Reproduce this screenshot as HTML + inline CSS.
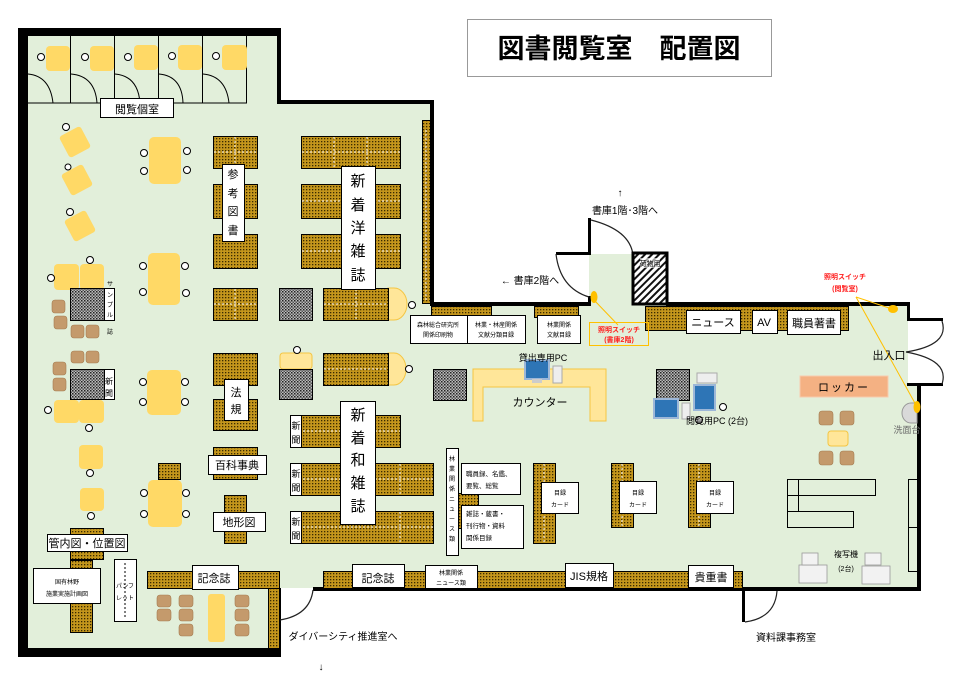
<!DOCTYPE html>
<html><head><meta charset="utf-8"><style>
html,body{margin:0;padding:0;background:#fff;}
svg{display:block;font-family:"Liberation Sans","Noto Sans CJK JP",sans-serif;}
</style></head><body>
<svg width="961" height="677" viewBox="0 0 961 677" xmlns="http://www.w3.org/2000/svg">
<defs>
<pattern id="sh" width="3" height="3" patternUnits="userSpaceOnUse"><rect width="3" height="3" fill="#c4961c"/><rect width="1.3" height="1.3" fill="#3a2a00"/></pattern>
<pattern id="gr" width="3" height="3" patternUnits="userSpaceOnUse"><rect width="3" height="3" fill="#bbb"/><rect width="1.5" height="1.5" fill="#222"/><rect x="1.5" y="1.5" width="1.5" height="1.5" fill="#555"/></pattern>
<pattern id="hx" width="5" height="5" patternUnits="userSpaceOnUse" patternTransform="rotate(45)"><rect width="5" height="5" fill="#fff"/><rect width="2" height="5" fill="#111"/></pattern>
</defs>

<!-- title -->
<rect x="467.5" y="19.5" width="304" height="57" fill="#fff" stroke="#999"/>
<text x="619" y="58" font-size="27" font-weight="bold" text-anchor="middle">図書閲覧室　配置図</text>

<!-- floor -->
<polygon fill="#e2efda" points="28,36 278,36 278,104 431,104 431,304 589,304 589,254 633,254 633,304 908,304 908,386 918,386 918,588 280,588 280,648 28,648"/>

<!-- walls -->
<g fill="#000">
<rect x="18" y="28" width="10" height="629"/>
<rect x="18" y="28" width="262" height="8"/>
<rect x="277" y="28" width="4" height="76"/>
<rect x="277" y="100" width="156" height="4"/>
<rect x="430" y="100" width="4" height="206"/>
<rect x="430" y="302" width="161" height="4"/>
<rect x="588" y="218" width="3" height="36"/>
<rect x="556" y="252" width="35" height="3"/>
<rect x="588" y="296" width="3" height="10"/>
<rect x="666" y="302" width="244" height="4"/>
<rect x="907" y="302" width="3" height="19"/>
<rect x="907" y="318" width="36" height="3"/>
<rect x="907" y="383" width="36" height="3"/>
<rect x="917" y="383" width="4" height="208"/>
<rect x="742" y="587" width="179" height="4"/>
<rect x="742" y="587" width="3" height="35"/>
<rect x="313" y="587" width="430" height="4"/>
<rect x="18" y="648" width="263" height="9"/>
<rect x="277" y="588" width="4" height="69"/>
</g>
<!-- doors -->
<g fill="none" stroke="#222" stroke-width="1.2">
<path d="M591,220 Q630,230 633,255"/>
<path d="M556,254 Q560,288 589,297"/>
<path d="M942,321 Q950,345 906,352 Q950,360 942,384"/>
<path d="M745,622 Q775,618 777,591"/>
<path d="M280,620 Q310,615 313,590"/>
</g>
<!-- elevator -->
<rect x="633" y="253" width="34" height="51" fill="url(#hx)" stroke="#000" stroke-width="3"/>
<rect x="640" y="258" width="20" height="10" fill="#fff" opacity="0.6"/>
<text x="650" y="266" font-size="7" text-anchor="middle">荷物用</text>

<!-- private rooms -->
<g stroke="#000" stroke-width="1" fill="none">
<line x1="28" y1="103" x2="247" y2="103"/>
<line x1="70.5" y1="36" x2="70.5" y2="103"/><line x1="114.5" y1="36" x2="114.5" y2="103"/>
<line x1="158.5" y1="36" x2="158.5" y2="103"/><line x1="202.5" y1="36" x2="202.5" y2="103"/>
<line x1="246.5" y1="36" x2="246.5" y2="103"/>
<path d="M28,74 Q50,76 53,103"/><path d="M71,74 Q95,76 97,103"/><path d="M115,74 Q138,76 140,103"/><path d="M159,74 Q182,76 183,103"/><path d="M203,74 Q226,76 229,103"/>
</g>
<g fill="#ffd966">
<rect x="46" y="46" width="24" height="25" rx="4"/><rect x="90" y="46" width="24" height="25" rx="4"/><rect x="134" y="45" width="24" height="25" rx="4"/><rect x="178" y="45" width="24" height="25" rx="4"/><rect x="222" y="45" width="25" height="25" rx="4"/>
</g>
<g fill="#fff" stroke="#000" stroke-width="1">
<circle cx="41" cy="57" r="3.5"/><circle cx="85" cy="57" r="3.5"/><circle cx="128" cy="57" r="3.5"/><circle cx="172" cy="56" r="3.5"/><circle cx="216" cy="56" r="3.5"/>
</g>
<rect x="100.5" y="98.5" width="73" height="19" fill="#fff" stroke="#000"/>
<text x="137" y="113" font-size="11" text-anchor="middle">閲覧個室</text>

<!-- lounge angled tables -->
<g fill="#ffd966">
<rect x="63" y="130" width="24" height="24" rx="3" transform="rotate(-28 75 142)"/>
<rect x="65" y="168" width="24" height="24" rx="3" transform="rotate(-28 77 180)"/>
<rect x="68" y="214" width="24" height="24" rx="3" transform="rotate(-28 80 226)"/>
</g>
<!-- tables -->
<g fill="#ffd966">
<rect x="149" y="137" width="32" height="47" rx="5"/>
<rect x="148" y="253" width="32" height="52" rx="5"/>
<rect x="147" y="370" width="34" height="45" rx="5"/>
<rect x="148" y="480" width="34" height="47" rx="5"/>
<rect x="54" y="264" width="25" height="26" rx="4"/><rect x="80" y="264" width="24" height="26" rx="4"/>
<rect x="54" y="400" width="25" height="23" rx="4"/><rect x="79" y="400" width="25" height="23" rx="4"/>
<rect x="79" y="445" width="24" height="24" rx="4"/><rect x="80" y="488" width="24" height="23" rx="4"/>
<rect x="208" y="594" width="17" height="48" rx="3"/>
<rect x="280" y="353" width="32" height="16" rx="3" fill="#ffe699" stroke="#f4c542"/>
<path d="M388,288 h6 a13,16 0 0 1 0,32 h-6z" fill="#ffe699" stroke="#f4c542"/>
<path d="M388,353 h6 a12,16 0 0 1 0,32 h-6z" fill="#ffe699" stroke="#f4c542"/>
<rect x="828" y="431" width="20" height="15" rx="3" fill="#ffe699" stroke="#f4c542"/>
</g>
<g fill="#fff" stroke="#000" stroke-width="1">
<circle cx="66" cy="127" r="3.5"/><circle cx="68" cy="167" r="3"/><circle cx="70" cy="212" r="3.5"/>
<circle cx="144" cy="153" r="3.5"/><circle cx="144" cy="171" r="3.5"/><circle cx="187" cy="151" r="3.5"/><circle cx="187" cy="170" r="3.5"/>
<circle cx="143" cy="266" r="3.5"/><circle cx="143" cy="292" r="3.5"/><circle cx="185" cy="266" r="3.5"/><circle cx="186" cy="293" r="3.5"/>
<circle cx="143" cy="382" r="3.5"/><circle cx="143" cy="402" r="3.5"/><circle cx="185" cy="382" r="3.5"/><circle cx="185" cy="402" r="3.5"/>
<circle cx="144" cy="493" r="3.5"/><circle cx="144" cy="514" r="3.5"/><circle cx="186" cy="493" r="3.5"/><circle cx="186" cy="514" r="3.5"/>
<circle cx="51" cy="278" r="3.5"/><circle cx="90" cy="260" r="3.5"/>
<circle cx="48" cy="410" r="3.5"/><circle cx="89" cy="428" r="3.5"/>
<circle cx="90" cy="473" r="3.5"/><circle cx="91" cy="516" r="3.5"/>
<circle cx="297" cy="350" r="3.5"/><circle cx="412" cy="305" r="3.5"/><circle cx="409" cy="369" r="3.5"/>
<circle cx="411" cy="306" r="0"/>
<circle cx="699" cy="420" r="3.5"/><circle cx="723" cy="407" r="3.5"/>
</g>

<!-- armchairs -->
<g fill="#c49a6c" stroke="#a57c50" stroke-width="0.6">
<rect x="52" y="300" width="13" height="13" rx="3"/><rect x="54" y="316" width="13" height="13" rx="3"/><rect x="71" y="325" width="13" height="13" rx="3"/><rect x="86" y="325" width="13" height="13" rx="3"/>
<rect x="71" y="351" width="13" height="12" rx="3"/><rect x="86" y="351" width="13" height="12" rx="3"/><rect x="53" y="362" width="13" height="13" rx="3"/><rect x="53" y="378" width="13" height="13" rx="3"/>
<rect x="157" y="595" width="14" height="12" rx="3"/><rect x="157" y="609" width="14" height="12" rx="3"/>
<rect x="179" y="595" width="14" height="12" rx="3"/><rect x="179" y="609" width="14" height="12" rx="3"/><rect x="179" y="624" width="14" height="12" rx="3"/>
<rect x="235" y="595" width="14" height="12" rx="3"/><rect x="235" y="609" width="14" height="12" rx="3"/><rect x="235" y="624" width="14" height="12" rx="3"/>
<rect x="819" y="411" width="14" height="14" rx="3"/><rect x="840" y="411" width="14" height="14" rx="3"/>
<rect x="819" y="451" width="14" height="14" rx="3"/><rect x="840" y="451" width="14" height="14" rx="3"/>
</g>

<!-- gray tables -->
<g fill="url(#gr)" stroke="#000" stroke-width="1">
<rect x="70.5" y="288.5" width="34" height="32"/>
<rect x="70.5" y="369.5" width="34" height="30"/>
<rect x="279.5" y="288.5" width="33" height="32"/>
<rect x="279.5" y="369.5" width="33" height="30"/>
<rect x="433.5" y="369.5" width="33" height="31"/>
<rect x="656.5" y="369.5" width="33" height="31"/>
</g>

<!-- shelves -->
<g fill="url(#sh)" stroke="#000" stroke-width="1">
<rect x="213.5" y="136.5" width="44" height="32"/><rect x="213.5" y="184.5" width="44" height="34"/><rect x="213.5" y="234.5" width="44" height="34"/><rect x="213.5" y="288.5" width="44" height="32"/>
<rect x="301.5" y="136.5" width="99" height="32"/><rect x="301.5" y="184.5" width="99" height="34"/><rect x="301.5" y="234.5" width="99" height="34"/>
<rect x="323.5" y="288.5" width="65" height="32"/><rect x="323.5" y="353.5" width="65" height="32"/>
<rect x="213.5" y="353.5" width="44" height="32"/><rect x="213.5" y="399.5" width="44" height="31"/>
<rect x="213.5" y="447.5" width="44" height="32"/><rect x="224.5" y="495.5" width="22" height="48"/>
<rect x="290.5" y="415.5" width="110" height="32"/><rect x="290.5" y="463.5" width="143" height="32"/><rect x="290.5" y="511.5" width="143" height="32"/>
<rect x="158.5" y="463.5" width="22" height="16"/>
<rect x="70.5" y="528.5" width="33" height="31"/><rect x="70.5" y="560.5" width="22" height="72"/>
<rect x="147.5" y="571.5" width="132" height="17"/><rect x="268.5" y="588.5" width="11" height="60"/>
<rect x="323.5" y="571.5" width="419" height="17"/>
<rect x="422.5" y="120.5" width="8" height="183"/>
<rect x="431.5" y="306.5" width="60" height="10"/><rect x="534.5" y="306.5" width="44" height="11"/>
<rect x="645.5" y="306.5" width="203" height="24"/>
<rect x="458.5" y="493.5" width="20" height="35"/>
<rect x="533.5" y="463.5" width="22" height="80"/><rect x="611.5" y="463.5" width="22" height="64"/><rect x="688.5" y="463.5" width="22" height="64"/>
</g>
<g stroke="#fff" stroke-width="1" stroke-dasharray="2,2">
<line x1="235" y1="137" x2="235" y2="168"/><line x1="214" y1="152" x2="257" y2="152"/>
<line x1="235" y1="289" x2="235" y2="320"/><line x1="214" y1="304" x2="257" y2="304"/>
<line x1="334" y1="137" x2="334" y2="168"/><line x1="367" y1="137" x2="367" y2="168"/><line x1="302" y1="152" x2="400" y2="152"/>
<line x1="302" y1="201" x2="400" y2="201"/><line x1="302" y1="251" x2="400" y2="251"/>
<line x1="356" y1="289" x2="356" y2="320"/><line x1="324" y1="304" x2="388" y2="304"/>
<line x1="324" y1="369" x2="388" y2="369"/>
<line x1="291" y1="431" x2="400" y2="431"/><line x1="291" y1="479" x2="433" y2="479"/><line x1="291" y1="527" x2="433" y2="527"/>
<line x1="400" y1="464" x2="400" y2="495"/><line x1="400" y1="512" x2="400" y2="543"/>
<line x1="544" y1="464" x2="544" y2="543"/><line x1="622" y1="464" x2="622" y2="527"/><line x1="699" y1="464" x2="699" y2="527"/>
<line x1="426" y1="130" x2="426" y2="300"/>
</g>

<!-- white label boxes -->
<g fill="#fff" stroke="#000" stroke-width="1">
<rect x="222.5" y="164.5" width="22" height="77"/>
<rect x="341.5" y="166.5" width="34" height="123"/>
<rect x="224.5" y="379.5" width="24" height="41"/>
<rect x="208.5" y="455.5" width="58" height="19"/>
<rect x="213.5" y="512.5" width="52" height="19"/>
<rect x="340.5" y="401.5" width="35" height="123"/>
<rect x="290.5" y="415.5" width="11" height="32"/><rect x="290.5" y="463.5" width="11" height="32"/><rect x="290.5" y="511.5" width="11" height="32"/>
<rect x="104.5" y="288.5" width="10" height="32"/><rect x="104.5" y="369.5" width="10" height="30"/>
<rect x="47.5" y="534.5" width="80" height="17"/>
<rect x="33.5" y="568.5" width="67" height="35"/>
<rect x="114.5" y="559.5" width="22" height="62"/>
<rect x="192.5" y="565.5" width="46" height="24"/>
<rect x="352.5" y="564.5" width="52" height="23"/>
<rect x="425.5" y="565.5" width="52" height="23"/>
<rect x="565.5" y="563.5" width="48" height="24"/>
<rect x="688.5" y="565.5" width="45" height="22"/>
<rect x="446.5" y="448.5" width="12" height="107"/>
<rect x="461.5" y="463.5" width="59" height="31"/>
<rect x="461.5" y="505.5" width="62" height="43"/>
<rect x="541.5" y="482.5" width="37" height="31"/><rect x="619.5" y="481.5" width="37" height="32"/><rect x="696.5" y="481.5" width="37" height="32"/>
<rect x="410.5" y="315.5" width="57" height="28"/><rect x="467.5" y="315.5" width="58" height="28"/><rect x="537.5" y="315.5" width="43" height="28"/>
<rect x="686.5" y="310.5" width="54" height="23"/><rect x="752.5" y="310.5" width="25" height="23"/><rect x="787.5" y="310.5" width="53" height="24"/>
</g>
<line x1="125" y1="563" x2="125" y2="618" stroke="#000" stroke-dasharray="2,2"/>

<!-- sofas -->
<g fill="none" stroke="#000" stroke-width="1">
<rect x="787.5" y="479.5" width="88" height="16"/><line x1="798.5" y1="479" x2="798.5" y2="511"/>
<rect x="787.5" y="511.5" width="66" height="16"/><line x1="787.5" y1="495" x2="787.5" y2="511"/>
<rect x="908.5" y="479.5" width="9" height="92"/><line x1="908" y1="527.5" x2="918" y2="527.5"/>
</g>

<!-- counter -->
<g fill="#ffe699" stroke="#f4c542" stroke-width="1">
<path d="M473,369 h133 v52 h-16 v-34 h-107 v34 h-10z"/>
</g>
<!-- PCs -->
<g>
<rect x="525" y="360" width="24" height="19" fill="#2e75b6" stroke="#9db7d8" stroke-width="2"/><rect x="532" y="379" width="10" height="4" fill="#ccc"/>
<rect x="553" y="366" width="9" height="17" fill="#eee" stroke="#aaa"/>
<rect x="654" y="399" width="24" height="19" fill="#2e75b6" stroke="#9db7d8" stroke-width="2"/>
<rect x="694" y="385" width="21" height="25" fill="#2e75b6" stroke="#9db7d8" stroke-width="2"/>
<rect x="697" y="373" width="20" height="10" fill="#eee" stroke="#aaa"/>
<rect x="682" y="403" width="8" height="16" fill="#eee" stroke="#aaa"/>
</g>
<!-- lockers etc -->
<rect x="800" y="376" width="88" height="21" fill="#f4b183" stroke="#f8cbad"/>
<text x="844" y="391" font-size="11" text-anchor="middle" letter-spacing="2">ロッカー</text>
<path d="M917,403 h-6 a9,10 0 0 0 0,20 h6z" fill="#d9d9d9" stroke="#999"/>
<text x="907" y="433" font-size="9" fill="#666" text-anchor="middle">洗面台</text>
<!-- copiers -->
<g fill="#f2f2f2" stroke="#999" stroke-width="0.8">
<rect x="799" y="565" width="28" height="18"/><rect x="802" y="553" width="16" height="12"/>
<rect x="862" y="566" width="28" height="18"/><rect x="865" y="553" width="16" height="12"/>
</g>
<text x="846" y="557" font-size="8" text-anchor="middle">複写機</text>
<text x="846" y="571" font-size="7" text-anchor="middle">(2台)</text>

<!-- switches -->
<g stroke="#ffc000" stroke-width="1" fill="none">
<line x1="594" y1="300" x2="618" y2="325"/>
<line x1="856" y1="297" x2="892" y2="309"/>
<line x1="856" y1="297" x2="916" y2="405"/>
</g>
<g fill="#ffc000">
<ellipse cx="594" cy="297" rx="3.5" ry="6"/><ellipse cx="893" cy="309" rx="5" ry="4"/><ellipse cx="917" cy="407" rx="3.5" ry="6"/>
</g>
<rect x="589.5" y="322.5" width="59" height="23" fill="none" stroke="#ffc000"/>
<g font-size="7" font-weight="bold" fill="#ff2020" text-anchor="middle">
<text x="619" y="332">照明スイッチ</text><text x="619" y="342">(書庫2階)</text>
<text x="845" y="279">照明スイッチ</text><text x="845" y="291">(閲覧室)</text>
</g>

<!-- labels -->
<g font-size="11" text-anchor="middle">
<text x="233" y="178">参</text><text x="233" y="197">考</text><text x="233" y="215">図</text><text x="233" y="234">書</text>
<g font-size="15"><text x="358" y="186">新</text><text x="358" y="210">着</text><text x="358" y="233">洋</text><text x="358" y="256">雑</text><text x="358" y="280">誌</text>
<text x="358" y="420">新</text><text x="358" y="443">着</text><text x="358" y="465">和</text><text x="358" y="488">雑</text><text x="358" y="511">誌</text></g>
<text x="236" y="396">法</text><text x="236" y="413">規</text>
<text x="237" y="469">百科事典</text>
<text x="239" y="526">地形図</text>
<text x="87" y="547">管内図・位置図</text>
<text x="214" y="582">記念誌</text><text x="378" y="582">記念誌</text>
<text x="589" y="580">JIS規格</text><text x="711" y="581">貴重書</text>
<text x="713" y="326">ニュース</text><text x="764" y="326">AV</text><text x="814" y="327">職員著書</text>
<text x="889" y="359">出入口</text>
<text x="540" y="406">カウンター</text>
<text x="543" y="361" font-size="9">貸出専用PC</text>
<text x="717" y="424" font-size="9">閲覧用PC (2台)</text>
<text x="625" y="214" font-size="10">書庫1階･3階へ</text>
<text x="620" y="196" font-size="10">↑</text>
<text x="530" y="284" font-size="10">←  書庫2階へ</text>
<text x="343" y="640" font-size="10">ダイバーシティ推進室へ</text>
<text x="321" y="670" font-size="10">↓</text>
<text x="786" y="641" font-size="10">資料課事務室</text>
</g>
<g font-size="9" text-anchor="middle">
<text x="296" y="429">新</text><text x="296" y="443">聞</text>
<text x="296" y="477">新</text><text x="296" y="491">聞</text>
<text x="296" y="525">新</text><text x="296" y="539">聞</text>
<text x="109" y="384" font-size="8">新</text><text x="109" y="396" font-size="8">聞</text>
</g>
<g font-size="6" text-anchor="middle">
<text x="110" y="286">サ</text><text x="110" y="297">ン</text><text x="110" y="307">プ</text><text x="110" y="317">ル</text><text x="110" y="334">誌</text>
<text x="452" y="461">林</text><text x="452" y="471">業</text><text x="452" y="481">関</text><text x="452" y="491">係</text><text x="452" y="501">ニ</text><text x="452" y="511">ュ</text><text x="452" y="521">ー</text><text x="452" y="531">ス</text><text x="452" y="541">類</text>
<text x="67" y="584">国有林野</text><text x="67" y="596">施業実施計画図</text>
<text x="125" y="588">パンフ</text><text x="125" y="600">レット</text>
<text x="438" y="327">森林総合研究所</text><text x="438" y="337">関係印刷物</text>
<text x="496" y="327">林業・林産関係</text><text x="496" y="337">文献分類目録</text>
<text x="559" y="327">林業関係</text><text x="559" y="337">文献目録</text>
<text x="451" y="575">林業関係</text><text x="451" y="585">ニュース類</text>
<text x="560" y="495">目録</text><text x="560" y="507">カード</text>
<text x="638" y="495">目録</text><text x="638" y="507">カード</text>
<text x="715" y="495">目録</text><text x="715" y="507">カード</text>
</g>
<g font-size="6.5">
<text x="466" y="476">職員録、名鑑、</text><text x="466" y="488">要覧、総覧</text>
<text x="466" y="516">雑誌・蔵書・</text><text x="466" y="528">刊行物・資料</text><text x="466" y="540">関係目録</text>
</g>
</svg>
</body></html>
